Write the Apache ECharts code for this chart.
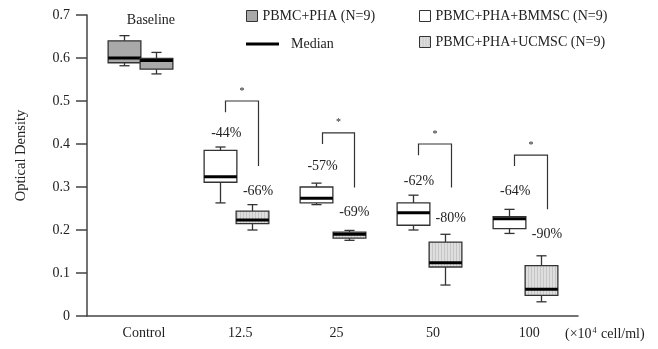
<!DOCTYPE html>
<html><head><meta charset="utf-8">
<script src="https://cdn.jsdelivr.net/npm/echarts@6/dist/echarts.min.js"></script>
<style>html,body{margin:0;padding:0;background:#fff}#c{width:658px;height:349px}</style>
</head><body><div id="c"></div>
<script>
// ---------- data ----------
const categories = ['Control', '12.5', '25', '50', '100'];
// [category, low, q1, median, q3, high]
const phaBoxes = [
  ['Control', 0.582, 0.589, 0.600, 0.640, 0.652],
  ['Control', 0.563, 0.574, 0.594, 0.599, 0.613]
];
const bmmscBoxes = [
  ['12.5', 0.263, 0.311, 0.324, 0.385, 0.393],
  ['25',   0.259, 0.263, 0.274, 0.300, 0.309],
  ['50',   0.200, 0.211, 0.240, 0.263, 0.281],
  ['100',  0.192, 0.203, 0.226, 0.231, 0.248]
];
const ucmscBoxes = [
  ['12.5', 0.200, 0.215, 0.223, 0.244, 0.259],
  ['25',   0.176, 0.181, 0.190, 0.195, 0.199],
  ['50',   0.072, 0.114, 0.124, 0.172, 0.190],
  ['100',  0.033, 0.048, 0.062, 0.117, 0.140]
];
const bracketCats = ['12.5', '25', '50', '100'];
const bracketLeftBottom = [0.474, 0.400, 0.374, 0.349];
const bracketTop = [0.500, 0.426, 0.400, 0.374];
const bracketRightBottom = [0.349, 0.299, 0.299, 0.248];
const pctLeft = ['-44%', '-57%', '-62%', '-64%'];
const pctLeftY = [0.424, 0.349, 0.314, 0.291];
const pctRight = ['-66%', '-69%', '-80%', '-90%'];
const pctRightY = [0.290, 0.240, 0.227, 0.190];
const baselineText = [['Control', 0.687, 'Baseline']];
const seriesNames = ['PBMC+PHA (N=9)', 'PBMC+PHA+BMMSC (N=9)', 'PBMC+PHA+UCMSC (N=9)', 'Median'];

// ---------- styles ----------
const FONT = '"Liberation Serif", "Times New Roman", serif';
const INK = '#222';
const BOX_OFF = 0.168, BOX_W = 0.34, CAP_W = 0.105;
const OFF_L = -0.114, OFF_R = 0.226;
const PHA_FILL = '#a9a9a9';
const stripe = document.createElement('canvas');
stripe.width = 3; stripe.height = 4;
(function(){const g = stripe.getContext('2d');
  g.fillStyle = '#dedede'; g.fillRect(0,0,3,4);
  g.fillStyle = '#c6c6c6'; g.fillRect(0,0,1,4);})();
const UC_FILL = {image: stripe, repeat: 'repeat'};

function boxRenderer(fill, sideFn) {
  return function (params, api) {
    const side = sideFn(params.dataIndex);
    const band = api.size([1, 0])[0];
    const xv = api.value(0);
    const c = Math.round(api.coord([xv, 0])[0] + side * band * BOX_OFF) + 0.5;
    const w = band * BOX_W, cw = band * CAP_W;
    const y = i => api.coord([xv, api.value(i)])[1];
    const yLow = y(1), yQ1 = y(2), yMed = y(3), yQ3 = y(4), yHigh = y(5);
    const ls = {stroke: '#333', lineWidth: 1.3};
    return {type: 'group', children: [
      {type: 'line', shape: {x1: c, y1: yHigh, x2: c, y2: yQ3}, style: ls},
      {type: 'line', shape: {x1: c, y1: yQ1, x2: c, y2: yLow}, style: ls},
      {type: 'line', shape: {x1: c - cw/2, y1: yHigh, x2: c + cw/2, y2: yHigh}, style: ls},
      {type: 'line', shape: {x1: c - cw/2, y1: yLow, x2: c + cw/2, y2: yLow}, style: ls},
      {type: 'rect', shape: {x: c - w/2, y: yQ3, width: w, height: yQ1 - yQ3},
        style: {fill: fill, stroke: '#333', lineWidth: 1.3}},
      {type: 'line', shape: {x1: c - w/2, y1: yMed, x2: c + w/2, y2: yMed},
        style: {stroke: '#000', lineWidth: 3}}
    ]};
  };
}

function textEl(x, yy, t, size) {
  return {type: 'text', style: {x: x, y: yy, text: t, align: 'center', verticalAlign: 'middle',
    font: (size || 14) + 'px ' + FONT, fill: INK}};
}

const bracketData = bracketCats.map((c, i) => [c, bracketLeftBottom[i], bracketTop[i], bracketRightBottom[i]]);
const pctData = bracketCats.map((c, i) => [c, pctLeftY[i], pctRightY[i], pctLeft[i], pctRight[i]]);

const chart = echarts.init(document.getElementById('c'), null, {renderer: 'canvas'});
chart.setOption({
  animation: false,
  backgroundColor: '#fff',
  textStyle: {fontFamily: FONT, color: INK},
  grid: [
    {left: 87, top: 15, width: 491, height: 301},
    {left: 91.85, top: 15, width: 481.5, height: 301}
  ],
  xAxis: [
    {gridIndex: 0, type: 'value', min: 0, max: 1,
      axisLine: {show: true, lineStyle: {color: '#444', width: 1.5}},
      axisTick: {show: false}, axisLabel: {show: false}, splitLine: {show: false},
      name: '(×10{sup|4} cell/ml)', nameLocation: 'end', nameGap: -13,
      nameTextStyle: {fontFamily: FONT, fontSize: 14, color: INK, verticalAlign: 'top', padding: [11, 0, 0, 0],
        rich: {sup: {fontSize: 8, fontFamily: FONT, color: INK, verticalAlign: 'top', padding: [0, 1, 0, 1]}}}},
    {gridIndex: 1, type: 'category', data: categories, boundaryGap: true,
      axisLine: {show: false}, axisTick: {show: false},
      axisLabel: {fontFamily: FONT, fontSize: 14, color: INK, margin: 10, padding: [0, 0, 0, 8]}}
  ],
  yAxis: [
    {gridIndex: 0, type: 'value', min: 0, max: 0.7, interval: 0.1,
      axisLine: {show: true, lineStyle: {color: '#444', width: 1.5}},
      axisTick: {show: true, length: 11, lineStyle: {color: '#444', width: 1.5}},
      axisLabel: {fontFamily: FONT, fontSize: 14, color: INK, margin: 17},
      splitLine: {show: false},
      name: 'Optical Density', nameLocation: 'middle', nameGap: 58, nameRotate: 90,
      nameTextStyle: {fontFamily: FONT, fontSize: 14.5, color: INK, padding: [0, 0, 0, 20]}},
    {gridIndex: 1, type: 'value', min: 0, max: 0.7, show: false}
  ],
  legend: [
    {left: 241, top: 4, orient: 'vertical', itemWidth: 11, itemHeight: 11, selectedMode: false,
      textStyle: {fontFamily: FONT, fontSize: 14, color: INK},
      data: [{name: seriesNames[0], icon: 'rect', itemStyle: {color: PHA_FILL, borderColor: '#333', borderWidth: 1}}]},
    {left: 241, top: 32, itemWidth: 33, itemHeight: 3, selectedMode: false,
      textStyle: {fontFamily: FONT, fontSize: 14, color: INK, padding: [0, 0, 0, 7]},
      data: [{name: seriesNames[3], icon: 'rect', itemStyle: {color: '#000', borderWidth: 0}}]},
    {left: 414, top: 4, orient: 'vertical', itemGap: 12, itemWidth: 11, itemHeight: 11, selectedMode: false,
      textStyle: {fontFamily: FONT, fontSize: 14, color: INK},
      data: [
        {name: seriesNames[1], icon: 'rect', itemStyle: {color: '#fff', borderColor: '#333', borderWidth: 1}},
        {name: seriesNames[2], icon: 'rect', itemStyle: {color: UC_FILL, borderColor: '#333', borderWidth: 1}}
      ]}
  ],
  series: [
    {name: seriesNames[0], type: 'custom', xAxisIndex: 1, yAxisIndex: 1, data: phaBoxes,
      encode: {x: 0, y: [1, 2, 3, 4, 5]}, renderItem: boxRenderer(PHA_FILL, i => (i === 0 ? -1 : 1))},
    {name: seriesNames[1], type: 'custom', xAxisIndex: 1, yAxisIndex: 1, data: bmmscBoxes,
      encode: {x: 0, y: [1, 2, 3, 4, 5]}, renderItem: boxRenderer('#fff', () => -1)},
    {name: seriesNames[2], type: 'custom', xAxisIndex: 1, yAxisIndex: 1, data: ucmscBoxes,
      encode: {x: 0, y: [1, 2, 3, 4, 5]}, renderItem: boxRenderer(UC_FILL, () => 1)},
    {name: seriesNames[3], type: 'line', xAxisIndex: 1, yAxisIndex: 1, data: []},
    {name: 'brackets', type: 'custom', xAxisIndex: 1, yAxisIndex: 1, data: bracketData,
      encode: {x: 0, y: [1, 2, 3]}, silent: true,
      renderItem: function (params, api) {
        const band = api.size([1, 0])[0];
        const xv = api.value(0);
        const cx = api.coord([xv, 0])[0];
        const xl = Math.round(cx + band * OFF_L) + 0.5, xr = Math.round(cx + band * OFF_R) + 0.5;
        const yl = api.coord([xv, api.value(1)])[1], yt = api.coord([xv, api.value(2)])[1], yr = api.coord([xv, api.value(3)])[1];
        return {type: 'group', children: [
          {type: 'polyline', shape: {points: [[xl, yl], [xl, yt], [xr, yt], [xr, yr]]},
            style: {stroke: '#333', lineWidth: 1.2, fill: null}},
          textEl((xl + xr) / 2, yt - 10, '*', 10)
        ]};
      }},
    {name: 'percent', type: 'custom', xAxisIndex: 1, yAxisIndex: 1, data: pctData,
      encode: {x: 0, y: [1, 2]}, silent: true,
      renderItem: function (params, api) {
        const band = api.size([1, 0])[0];
        const xv = api.value(0);
        const cx = api.coord([xv, 0])[0];
        const d = pctData[params.dataIndex];
        return {type: 'group', children: [
          textEl(cx + band * OFF_L + 1, api.coord([xv, api.value(1)])[1], d[3]),
          textEl(cx + band * OFF_R, api.coord([xv, api.value(2)])[1], d[4])
        ]};
      }},
    {name: 'baseline', type: 'custom', xAxisIndex: 1, yAxisIndex: 1, data: baselineText,
      encode: {x: 0, y: 1}, silent: true,
      renderItem: function (params, api) {
        const band = api.size([1, 0])[0];
        const xv = api.value(0);
        const p = api.coord([xv, api.value(1)]);
        return textEl(p[0] + band * 0.114, p[1], baselineText[params.dataIndex][2]);
      }}
  ]
});
</script>
</body></html>
